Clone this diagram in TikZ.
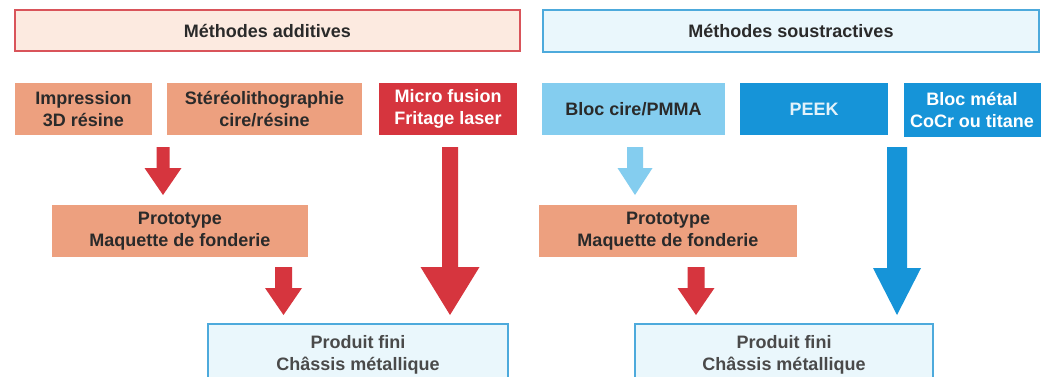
\documentclass[tikz,border=0pt]{standalone}
\usepackage{fontspec}
\setmainfont{Liberation Sans}
\usetikzlibrary{calc}
\definecolor{salmon}{HTML}{EDA07F}
\definecolor{redbox}{HTML}{D6353E}
\definecolor{lblue}{HTML}{84CDEF}
\definecolor{dblue}{HTML}{1694D8}
\definecolor{pinkfill}{HTML}{FCEAE0}
\definecolor{redline}{HTML}{D9545A}
\definecolor{bluefill}{HTML}{EAF7FC}
\definecolor{blueline}{HTML}{4DAADC}
\definecolor{txt}{HTML}{2A2A2A}
\newcommand{\blockarr}[6]{%
  \fill[#6] let \p1=(#1), \p2=(#2) in
    (\x1-#3,\y1) -- (\x1+#3,\y1) -- (\x1+#3,\y2+#5) -- (\x1+#4,\y2+#5) --
    (\x1,\y2) -- (\x1-#4,\y2+#5) -- (\x1-#3,\y2+#5) -- cycle;}
\begin{document}
\begin{tikzpicture}[x=1pt,y=-1pt,
  every node/.style={font=\fontsize{18}{22}\selectfont\bfseries, align=center, inner sep=0pt},
  box/.style={rectangle, minimum height=52pt, text=txt},
  header/.style={rectangle, minimum height=41pt, line width=1.4pt, text=txt},
  prod/.style={rectangle, minimum height=62pt, line width=2pt, draw=blueline, fill=bluefill, text=txt!85}]
\useasboundingbox (0,0) rectangle (1041,377);
\clip (0,0) rectangle (1041,377);
\fill[white] (0,0) rectangle (1041,377);

% headers
\node[header, draw=redline, fill=pinkfill, minimum width=505pt] (hadd) at (267.5,30.5) {Méthodes additives};
\node[header, draw=blueline, fill=bluefill, minimum width=496pt, minimum height=42pt] (hsous) at (791,31) {Méthodes soustractives};

% top row
\node[box, fill=salmon, minimum width=137pt] (imp) at (83.5,109) {Impression\\3D résine};
\node[box, fill=salmon, minimum width=195pt] (stereo) at (264.5,109) {Stéréolithographie\\cire/résine};
\node[box, fill=redbox, minimum width=138pt, text=white] (micro) at (448,109) {Micro fusion\\Fritage laser};
\node[box, fill=lblue, minimum width=183pt] (bloc) at (633.5,109) {Bloc cire/PMMA};
\node[box, fill=dblue, minimum width=148pt, text=white!88!dblue] (peek) at (814,109) {PEEK};
\node[box, fill=dblue, minimum width=142pt, minimum height=54pt, text=white] (metal) at (975,110) {};
\node[text=white] (metaltxt) at (972,110) {Bloc métal\\CoCr ou titane};

% prototypes
\node[box, fill=salmon, minimum width=256pt] (protoL) at (180,231) {Prototype\\Maquette de fonderie};
\node[box, fill=salmon, minimum width=258pt] (protoR) at (668,231) {Prototype\\Maquette de fonderie};

% final products
\node[prod, minimum width=300pt] (prodL) at (358,355) {Produit fini\\Châssis métallique};
\node[prod, minimum width=298pt] (prodR) at (784,355) {Produit fini\\Châssis métallique};

% arrow end points
\coordinate (a1s) at (163,147); \coordinate (a1e) at (163,195);
\coordinate (a2s) at (283.5,267); \coordinate (a2e) at (283.5,315);
\coordinate (a3s) at (450,147); \coordinate (a3e) at (450,315);
\coordinate (a4s) at (635,147); \coordinate (a4e) at (635,195);
\coordinate (a5s) at (696,267); \coordinate (a5e) at (696,315);
\coordinate (a6s) at (897,147); \coordinate (a6e) at (897,315);

\blockarr{a1s}{a1e}{6.5pt}{18.5pt}{27pt}{redbox}
\blockarr{a2s}{a2e}{8.5pt}{18.5pt}{27pt}{redbox}
\blockarr{a3s}{a3e}{8pt}{29.5pt}{48pt}{redbox}
\blockarr{a4s}{a4e}{8pt}{17.5pt}{27pt}{lblue}
\blockarr{a5s}{a5e}{8.5pt}{18.5pt}{27pt}{redbox}
\blockarr{a6s}{a6e}{10pt}{24pt}{47pt}{dblue}
\end{tikzpicture}
\end{document}
